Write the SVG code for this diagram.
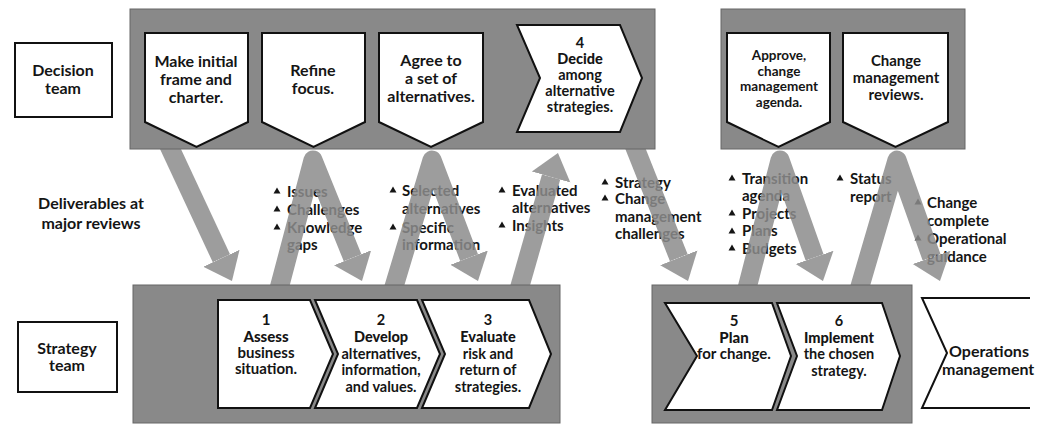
<svg xmlns="http://www.w3.org/2000/svg" xmlns:xlink="http://www.w3.org/1999/xlink" width="1038" height="425" viewBox="0 0 1038 425">
  <style>
    .band { fill: #898989; stroke: #666; stroke-width: 1; }
    .node { fill: #fff; stroke: #111; stroke-width: 2; stroke-linejoin: miter; }
    .open { fill: none; stroke: #111; stroke-width: 2; }
    text { font-family: Lato, "Open Sans", "Liberation Sans", sans-serif; fill: #151515; font-weight: 700; }
    .c { text-anchor: middle; }
    .f16 { font-size: 16px; }
    .f15 { font-size: 15px; }
    .f14 { font-size: 14.5px; }
    .f13 { font-size: 13.5px; }
    .em { font-weight: 900; }
    .shaft { fill: none; stroke: #8c8c8c; stroke-width: 19; stroke-linejoin: round; }
    .bul { fill: #151515; }
  </style>
  <defs>
    <marker id="head" markerUnits="userSpaceOnUse" viewBox="0 0 26 44" markerWidth="26" markerHeight="44" refX="0" refY="22" orient="auto">
      <path d="M0,2 L25,22 L0,42 Z" fill="#8c8c8c"/>
    </marker>
    <path id="tri" d="M0,-3.5 L3.5,2.5 L-3.5,2.5 Z"/>
  </defs>

  <!-- side labels -->
  <g id="decision-team">
    <rect class="node" x="15" y="43" width="97" height="74"/>
    <text class="c f16" x="63" y="75.5">Decision</text>
    <text class="c f16" x="63" y="93.5">team</text>
  </g>
  <g id="strategy-team">
    <rect class="node" x="18" y="322" width="99" height="70"/>
    <text class="c f16" x="67" y="353.5">Strategy</text>
    <text class="c f16" x="67" y="370.5">team</text>
  </g>
  <g id="deliverables-label">
    <text class="c f16" x="91" y="208.5">Deliverables at</text>
    <text class="c f16" x="91" y="228.5">major reviews</text>
  </g>

  <!-- deliverable lists -->
  <g id="list-issues" class="f15">
    <use href="#tri" class="bul" x="277" y="191"/>
    <use href="#tri" class="bul" x="277" y="209"/>
    <use href="#tri" class="bul" x="277" y="227"/>
    <text x="287" y="196.5">Issues</text>
    <text x="287" y="214.5">Challenges</text>
    <text x="287" y="232.5">Knowledge</text>
    <text x="287" y="249.5">gaps</text>
  </g>
  <g id="list-selected" class="f15">
    <use href="#tri" class="bul" x="393" y="190"/>
    <use href="#tri" class="bul" x="393" y="227"/>
    <text x="402" y="195.5">Selected</text>
    <text x="402" y="213.5">alternatives</text>
    <text x="402" y="232.5">Specific</text>
    <text x="402" y="249.5">information</text>
  </g>
  <g id="list-evaluated" class="f15">
    <use href="#tri" class="bul" x="502" y="190"/>
    <use href="#tri" class="bul" x="502" y="225"/>
    <text x="512" y="195.5">Evaluated</text>
    <text x="512" y="212.5">alternatives</text>
    <text x="512" y="230.5">Insights</text>
  </g>
  <g id="list-strategy" class="f15">
    <use href="#tri" class="bul" x="605" y="182"/>
    <use href="#tri" class="bul" x="605" y="198"/>
    <text x="615" y="187.5">Strategy</text>
    <text x="615" y="204">Change</text>
    <text x="615" y="221.5">management</text>
    <text x="615" y="238.5">challenges</text>
  </g>
  <g id="list-transition" class="f15">
    <use href="#tri" class="bul" x="732" y="178"/>
    <use href="#tri" class="bul" x="732" y="213"/>
    <use href="#tri" class="bul" x="732" y="231"/>
    <use href="#tri" class="bul" x="732" y="248"/>
    <text x="742" y="183.5">Transition</text>
    <text x="742" y="200.5">agenda</text>
    <text x="742" y="218.5">Projects</text>
    <text x="742" y="236">Plans</text>
    <text x="742" y="253.5">Budgets</text>
  </g>
  <g id="list-status" class="f15">
    <use href="#tri" class="bul" x="840" y="178"/>
    <text x="850" y="183.5">Status</text>
    <text x="850" y="201.5">report</text>
  </g>
  <g id="list-complete" class="f15">
    <use href="#tri" class="bul" x="918" y="202"/>
    <use href="#tri" class="bul" x="918" y="238"/>
    <text x="927" y="207.5">Change</text>
    <text x="927" y="225.5">complete</text>
    <text x="927" y="243.5">Operational</text>
    <text x="927" y="261.5">guidance</text>
  </g>

  <!-- connectors: hand-offs between the two teams -->
  <g id="connectors" opacity="0.85">
    <path class="shaft" d="M164.4,136 L221.4,258.3" marker-end="url(#head)"/>
    <path class="shaft" d="M276,300 L313,160 L352.6,257.8" marker-end="url(#head)"/>
    <path class="shaft" d="M390,300 L432,160 L469.1,257.6" marker-end="url(#head)"/>
    <path class="shaft" d="M516,300 L551.1,177" marker-end="url(#head)"/>
    <path class="shaft" d="M628,130 L678.8,257.8" marker-end="url(#head)"/>
    <path class="shaft" d="M744,300 L780,160 L814.6,257.4" marker-end="url(#head)"/>
    <path class="shaft" d="M856,300 L897,160 L931.6,257.4" marker-end="url(#head)"/>
  </g>

  <!-- team bands -->
  <g id="bands">
    <rect class="band" x="130" y="9" width="525" height="140"/>
    <rect class="band" x="721" y="9" width="244" height="140"/>
    <rect class="band" x="133" y="285" width="427" height="138"/>
    <rect class="band" x="652" y="285" width="260" height="138"/>
  </g>

  <!-- decision team steps -->
  <g id="frame">
    <path class="node" d="M145,33 H248 V122 L196.5,147 L145,122 Z"/>
    <text class="c f16" x="196" y="67">Make initial</text>
    <text class="c f16" x="196" y="85">frame and</text>
    <text class="c f16" x="196" y="103">charter.</text>
  </g>
  <g id="refine">
    <path class="node" d="M262,33 H365 V122 L313.5,147 L262,122 Z"/>
    <text class="c f16" x="313" y="75.5">Refine</text>
    <text class="c f16" x="313" y="93.5">focus.</text>
  </g>
  <g id="agree">
    <path class="node" d="M379,33 H483 V122 L431,147 L379,122 Z"/>
    <text class="c f16" x="431" y="66">Agree to</text>
    <text class="c f16" x="431" y="84">a set of</text>
    <text class="c f16" x="431" y="102">alternatives.</text>
  </g>
  <g id="decide">
    <path class="node" d="M517,25 H620 L642,78 L620,132 H517 L540,78 Z"/>
    <text class="c f14" x="580" y="48">4</text>
    <text class="c f14 em" x="580" y="64">Decide</text>
    <text class="c f14" x="580" y="80">among</text>
    <text class="c f14" x="580" y="96">alternative</text>
    <text class="c f14" x="580" y="112">strategies.</text>
  </g>
  <g id="approve">
    <path class="node" d="M727,33 H830 V122 L778.5,147 L727,122 Z"/>
    <text class="c f13" x="779" y="60">Approve,</text>
    <text class="c f13" x="779" y="75.5">change</text>
    <text class="c f13" x="779" y="91">management</text>
    <text class="c f13" x="779" y="106.5">agenda.</text>
  </g>
  <g id="reviews">
    <path class="node" d="M843,33 H948 V122 L895.5,147 L843,122 Z"/>
    <text class="c f15" x="896" y="66">Change</text>
    <text class="c f15" x="896" y="83">management</text>
    <text class="c f15" x="896" y="100">reviews.</text>
  </g>

  <!-- strategy team steps -->
  <g id="assess">
    <path class="node" d="M218,300 H310 L333,354 L310,408 H218 Z"/>
    <text class="c f15" x="266" y="325">1</text>
    <text class="c f15 em" x="266" y="342">Assess</text>
    <text class="c f15" x="266" y="358">business</text>
    <text class="c f15" x="266" y="374">situation.</text>
  </g>
  <g id="develop">
    <path class="node" d="M315,300 H417 L440,354 L417,408 H315 L338,354 Z"/>
    <text class="c f14" x="381" y="325">2</text>
    <text class="c f14 em" x="381" y="342">Develop</text>
    <text class="c f14" x="381" y="358.5">alternatives,</text>
    <text class="c f14" x="381" y="375">information,</text>
    <text class="c f14" x="381" y="391.5">and values.</text>
  </g>
  <g id="evaluate">
    <path class="node" d="M422,300 H529 L551,354 L529,408 H422 L445,354 Z"/>
    <text class="c f14" x="488" y="325">3</text>
    <text class="c f14 em" x="488" y="342">Evaluate</text>
    <text class="c f14" x="488" y="358.5">risk and</text>
    <text class="c f14" x="488" y="375">return of</text>
    <text class="c f14" x="488" y="391.5">strategies.</text>
  </g>
  <g id="plan">
    <path class="node" d="M665,303 H772 L791,356 L772,410 H665 L697,356 Z"/>
    <text class="c f15" x="734" y="326">5</text>
    <text class="c f15 em" x="734" y="342.5">Plan</text>
    <text class="c f15" x="734" y="359">for change.</text>
  </g>
  <g id="implement">
    <path class="node" d="M777,303 H882 L900,356 L882,410 H777 L797,356 Z"/>
    <text class="c f14" x="839" y="326">6</text>
    <text class="c f14 em" x="839" y="342.5">Implement</text>
    <text class="c f14" x="839" y="359">the chosen</text>
    <text class="c f14" x="839" y="375.5">strategy.</text>
  </g>

  <!-- hand-over to operations -->
  <g id="operations">
    <path class="open" d="M1030,298 H922 L947,353 L922,408 H1030"/>
    <text class="c f16" x="989" y="357">Operations</text>
    <text class="f16" x="942" y="375">management</text>
  </g>
</svg>
